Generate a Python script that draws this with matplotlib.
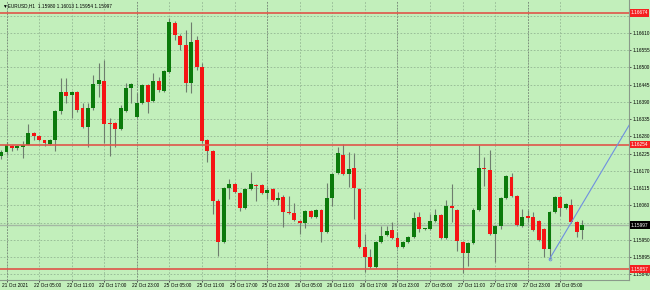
import matplotlib
matplotlib.use('Agg')
import matplotlib.pyplot as plt
from matplotlib.transforms import ScaledTranslation

plt.rcParams['font.family'] = ['Liberation Sans', 'DejaVu Sans']

# EURUSD H1 candles
opens = [1.16216, 1.16229, 1.16248, 1.16242, 1.16245, 1.16254, 1.16292, 1.16280, 1.16267, 1.16257,
         1.16267, 1.16362, 1.16423, 1.16413, 1.16423, 1.16372, 1.16311, 1.16369, 1.16448, 1.16458,
         1.16322, 1.16324, 1.16302, 1.16362, 1.16435, 1.16343, 1.16388, 1.16445, 1.16394, 1.16458,
         1.16426, 1.16486, 1.16642, 1.16601, 1.16572, 1.16451, 1.16588, 1.16502, 1.16267, 1.16235,
         1.16073, 1.15943, 1.16114, 1.16127, 1.16099, 1.16051, 1.16111, 1.16124, 1.16124, 1.16099,
         1.16111, 1.16076, 1.16086, 1.16038, 1.16035, 1.16010, 1.16003, 1.16041, 1.16022, 1.16044,
         1.15975, 1.16083, 1.16162, 1.16222, 1.16159, 1.16178, 1.16111, 1.15927, 1.15895, 1.15863,
         1.15943, 1.15965, 1.15981, 1.15955, 1.15927, 1.15943, 1.15959, 1.16022, 1.15984, 1.15984,
         1.16010, 1.16029, 1.15955, 1.16057, 1.16044, 1.15943, 1.15908, 1.15940, 1.16044, 1.16178,
         1.16172, 1.15968, 1.15994, 1.16083, 1.16149, 1.16089, 1.15994, 1.16025, 1.16022, 1.16010,
         1.15984, 1.15921, 1.16038, 1.16086, 1.16051, 1.16060, 1.16006, 1.15980]
highs = [1.16238, 1.16261, 1.16254, 1.16251, 1.16264, 1.16318, 1.16295, 1.16286, 1.16270, 1.16273,
         1.16365, 1.16467, 1.16467, 1.16426, 1.16426, 1.16388, 1.16388, 1.16477, 1.16515, 1.16524,
         1.16340, 1.16327, 1.16381, 1.16451, 1.16451, 1.16419, 1.16448, 1.16448, 1.16483, 1.16470,
         1.16492, 1.16658, 1.16648, 1.16607, 1.16620, 1.16645, 1.16601, 1.16515, 1.16273, 1.16238,
         1.16079, 1.16118, 1.16143, 1.16130, 1.16102, 1.16114, 1.16168, 1.16127, 1.16127, 1.16118,
         1.16114, 1.16102, 1.16092, 1.16089, 1.16067, 1.16013, 1.16044, 1.16044, 1.16048, 1.16048,
         1.16130, 1.16162, 1.16245, 1.16257, 1.16229, 1.16226, 1.16114, 1.15968, 1.15921, 1.15946,
         1.15994, 1.15994, 1.16006, 1.15974, 1.15946, 1.15962, 1.16038, 1.16038, 1.15987, 1.16032,
         1.16048, 1.16032, 1.16076, 1.16127, 1.16048, 1.15946, 1.15943, 1.16051, 1.16254, 1.16213,
         1.16238, 1.15997, 1.16086, 1.16156, 1.16162, 1.16092, 1.16048, 1.16044, 1.16038, 1.16013,
         1.15987, 1.16041, 1.16089, 1.16089, 1.16067, 1.16079, 1.16010, 1.16013]
lows = [1.16207, 1.16222, 1.16235, 1.16238, 1.16210, 1.16251, 1.16270, 1.16264, 1.16248, 1.16254,
        1.16232, 1.16350, 1.16388, 1.16340, 1.16359, 1.16308, 1.16245, 1.16365, 1.16407, 1.16260,
        1.16216, 1.16245, 1.16299, 1.16359, 1.16388, 1.16340, 1.16384, 1.16356, 1.16391, 1.16423,
        1.16423, 1.16483, 1.16588, 1.16556, 1.16423, 1.16419, 1.16493, 1.16260, 1.16197, 1.16032,
        1.15898, 1.15940, 1.16079, 1.16099, 1.16041, 1.16048, 1.16108, 1.16073, 1.16095, 1.16079,
        1.16073, 1.16060, 1.15990, 1.16032, 1.16010, 1.15968, 1.15987, 1.16019, 1.16019, 1.15943,
        1.15971, 1.16057, 1.16159, 1.16156, 1.16118, 1.16016, 1.15924, 1.15847, 1.15860, 1.15860,
        1.15940, 1.15962, 1.15952, 1.15924, 1.15924, 1.15940, 1.15955, 1.15974, 1.15981, 1.15981,
        1.16006, 1.15952, 1.15952, 1.16006, 1.15914, 1.15844, 1.15866, 1.15936, 1.16041, 1.16121,
        1.15965, 1.15879, 1.15984, 1.16079, 1.16086, 1.15994, 1.15990, 1.16006, 1.15978, 1.15946,
        1.15895, 1.15889, 1.16035, 1.16025, 1.16048, 1.16003, 1.15959, 1.15954]
closes = [1.16229, 1.16251, 1.16242, 1.16248, 1.16254, 1.16292, 1.16280, 1.16270, 1.16260, 1.16270,
          1.16362, 1.16423, 1.16410, 1.16423, 1.16365, 1.16311, 1.16372, 1.16448, 1.16461, 1.16321,
          1.16320, 1.16305, 1.16369, 1.16435, 1.16448, 1.16388, 1.16445, 1.16391, 1.16458, 1.16429,
          1.16489, 1.16645, 1.16604, 1.16572, 1.16451, 1.16582, 1.16502, 1.16264, 1.16235, 1.16073,
          1.15943, 1.16114, 1.16127, 1.16102, 1.16051, 1.16111, 1.16127, 1.16121, 1.16099, 1.16108,
          1.16076, 1.16083, 1.16038, 1.16035, 1.16013, 1.16003, 1.16041, 1.16022, 1.16044, 1.15975,
          1.16083, 1.16159, 1.16226, 1.16159, 1.16175, 1.16114, 1.15927, 1.15895, 1.15863, 1.15943,
          1.15962, 1.15978, 1.15955, 1.15927, 1.15943, 1.15959, 1.16019, 1.15984, 1.15985, 1.16010,
          1.16029, 1.15955, 1.16057, 1.16051, 1.15946, 1.15908, 1.15940, 1.16044, 1.16178, 1.16176,
          1.15968, 1.15994, 1.16083, 1.16153, 1.16089, 1.15997, 1.16022, 1.16019, 1.15981, 1.15949,
          1.15921, 1.16038, 1.16086, 1.16051, 1.16063, 1.16006, 1.15975, 1.15997]

time_labels = ['21 Oct 2021', '22 Oct 05:00', '22 Oct 11:00', '22 Oct 17:00', '22 Oct 23:00',
               '25 Oct 05:00', '25 Oct 11:00', '25 Oct 17:00', '25 Oct 23:00', '26 Oct 05:00',
               '26 Oct 11:00', '26 Oct 17:00', '26 Oct 23:00', '27 Oct 05:00', '27 Oct 11:00',
               '27 Oct 17:00', '27 Oct 23:00', '28 Oct 05:00']
day_starts = [1, 25, 49, 73, 97]
price_ticks = [1.15840, 1.15895, 1.15950, 1.16005, 1.16060, 1.16115, 1.16170, 1.16225, 1.16280,
               1.16335, 1.16390, 1.16445, 1.16500, 1.16555, 1.16610, 1.16665]
hidden_ticks = [1.16005, 1.16665]
levels = [1.16674, 1.16254, 1.15857]
trend_start = (101, 1.15889)
trend_next = (111, 1.16180)
header = '\u25bcEURUSD,H1  1.15980 1.16013 1.15954 1.15997'

bg = '#c2efbb'
up_col = '#0b7a0b'
dn_col = '#f51414'
wick_col = '#6e7d6e'
fs = 3.4

fig = plt.figure(figsize=(6.5, 2.9), dpi=100, facecolor=bg)
ax = fig.add_axes([0.0, 10 / 290, 629 / 650, 280 / 290])
ax.set_facecolor(bg)

n = len(opens)
xs = list(range(n))

# grid + day separators
for t in price_ticks:
    ax.axhline(t, color='#93b693', lw=0.6, ls=(0, (2, 2)), zorder=0)
grid_x = [1 + 6 * k for k in range(len(time_labels))]
for gx in grid_x:
    ax.axvline(gx, color='#93b693', lw=0.6, ls=(0, (2, 2)), zorder=0)
for d in day_starts:
    ax.axvline(d, color='#7d8f7d', lw=0.7, ls=(0, (1.5, 1.5)), zorder=0)

# bid line
ax.axhline(closes[-1], color='#a4b8a4', lw=1.0, zorder=1)

# candles
ax.vlines(xs, lows, highs, color=wick_col, lw=0.8, zorder=2)
bottoms = [min(o, c) for o, c in zip(opens, closes)]
heights = [max(abs(c - o), 0.00003) for o, c in zip(opens, closes)]
colors = [up_col if c >= o else dn_col for o, c in zip(opens, closes)]
ax.bar(xs, heights, bottom=bottoms, width=0.72, color=colors, linewidth=0, zorder=3)

# horizontal levels
for lv in levels:
    ax.axhline(lv, color='#e0554a', lw=1.2, zorder=4)

# trend ray: starts at the anchor, runs off the right edge
slope = (trend_next[1] - trend_start[1]) / (trend_next[0] - trend_start[0])
x_end = 130
ax.plot([trend_start[0], x_end], [trend_start[1], trend_start[1] + slope * (x_end - trend_start[0])],
        color='#6f8fe0', lw=0.8, zorder=5)
ax.plot([trend_start[0]], [trend_start[1]], 'o', ms=2, mfc='none', mec='#6f8fe0', mew=0.6, zorder=5)

ax.set_xlim(-0.2, 629 / 5.43 - 0.2)
ax.set_ylim(1.15822, 1.16715)

# axes look
for s in ['top', 'left']:
    ax.spines[s].set_visible(False)
for s in ['right', 'bottom']:
    ax.spines[s].set_color('#8a9a8a')
    ax.spines[s].set_linewidth(0.8)

ax.yaxis.tick_right()
ax.set_yticks(price_ticks)
ax.set_yticklabels(['' if t in hidden_ticks else '%.5f' % t for t in price_ticks])
ax.tick_params(axis='y', length=1.5, width=0.6, color='#404040', labelsize=fs, pad=0.8)

ax.set_xticks(grid_x)
ax.set_xticklabels(time_labels)
ax.tick_params(axis='x', length=1.5, width=0.6, color='#404040', labelsize=fs, pad=0.8)
shift = ScaledTranslation(-5 / 100, 0, fig.dpi_scale_trans)
for lbl in ax.get_xticklabels():
    lbl.set_horizontalalignment('left')
    lbl.set_transform(lbl.get_transform() + shift)

# price boxes on the right
tr = ax.get_yaxis_transform()
for lv in levels:
    ax.text(1.003, lv, '%.5f' % lv, transform=tr, ha='left', va='center', fontsize=fs,
            color='white', bbox=dict(boxstyle='square,pad=0.25', fc='#f52020', ec='none'), clip_on=False)
ax.text(1.003, closes[-1], '%.5f' % closes[-1], transform=tr, ha='left', va='center', fontsize=fs,
        color='white', bbox=dict(boxstyle='square,pad=0.25', fc='black', ec='none'), clip_on=False)

fig.text(3 / 650, 1 - 6 / 290, header, ha='left', va='center', fontsize=fs, color='black')

fig.savefig('out.png', dpi=100, facecolor=bg)
